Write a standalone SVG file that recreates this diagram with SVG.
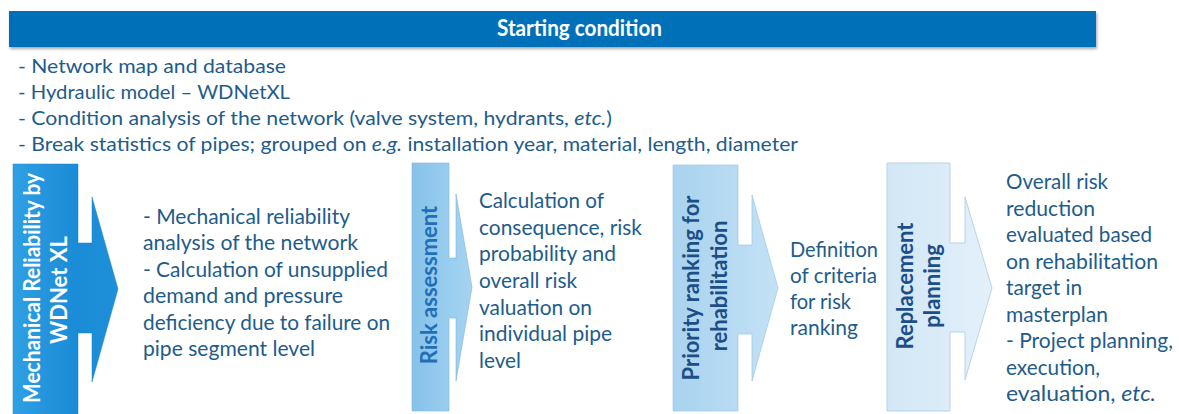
<svg xmlns="http://www.w3.org/2000/svg" width="1179" height="414" viewBox="0 0 1179 414">
<defs>
  <linearGradient id="g1" x1="0" y1="0" x2="1" y2="0">
    <stop offset="0" stop-color="#2fa0e3"/>
    <stop offset="0.6" stop-color="#1a8bd6"/>
    <stop offset="1" stop-color="#1e8fd8"/>
  </linearGradient>
  <linearGradient id="g2" x1="0" y1="0" x2="1" y2="0">
    <stop offset="0" stop-color="#86c2ea"/>
    <stop offset="1" stop-color="#a6d4f2"/>
  </linearGradient>
  <linearGradient id="g3" x1="0" y1="0" x2="1" y2="0">
    <stop offset="0" stop-color="#a9d3ef"/>
    <stop offset="1" stop-color="#c3e1f5"/>
  </linearGradient>
  <linearGradient id="g4" x1="0" y1="0" x2="1" y2="0">
    <stop offset="0" stop-color="#d2e7f6"/>
    <stop offset="1" stop-color="#e3f0fa"/>
  </linearGradient>
  <filter id="sh" x="-5%" y="-30%" width="110%" height="170%">
    <feDropShadow dx="1" dy="2" stdDeviation="1.5" flood-color="#000" flood-opacity="0.35"/>
  </filter>
</defs>
<style>
  .t { font-family: Lato, "Open Sans", "Liberation Sans", sans-serif; font-size: 22px; fill: #1e5c8b; }
  .s { font-size: 20px; }
  .hd { font-family: Lato, "Open Sans", "Liberation Sans", sans-serif; font-size: 22px; font-weight: bold; fill: #ffffff; }
  .v { font-family: Lato, "Open Sans", "Liberation Sans", sans-serif; font-size: 22px; font-weight: bold; text-anchor: middle; }
  .vw { fill: #ffffff; }
  .vb { fill: #1f70b8; }
  .vd { fill: #1c4e88; }
  .arr { stroke-width: 1; }
</style>

<g id="starting-condition">
  <rect x="9" y="11" width="1087" height="36" fill="#0071b9" filter="url(#sh)"/>
  <text class="hd" x="497" y="36" textLength="165" lengthAdjust="spacingAndGlyphs">Starting condition</text>
</g>

<g id="inputs">
  <text class="t s" x="18" y="73" textLength="268" lengthAdjust="spacingAndGlyphs">- Network map and database</text>
  <text class="t s" x="18" y="99" textLength="272" lengthAdjust="spacingAndGlyphs">- Hydraulic model – WDNetXL</text>
  <text class="t s" x="18" y="125" textLength="594" lengthAdjust="spacingAndGlyphs">- Condition analysis of the network (valve system, hydrants, <tspan font-style="italic">etc.</tspan>)</text>
  <text class="t s" x="18" y="151" textLength="780" lengthAdjust="spacingAndGlyphs">- Break statistics of pipes; grouped on <tspan font-style="italic">e.g.</tspan> installation year, material, length, diameter</text>
</g>

<g id="step-mechanical-reliability">
  <path class="arr" d="M13,164 H78 V243 H92 V197 L118,289 L92,382 V333 H78 V416 H13 Z" fill="url(#g1)" stroke="#1b86cc" stroke-opacity="0.5"/>
  <text class="v vw" transform="translate(40,288) rotate(-90)" textLength="230" lengthAdjust="spacingAndGlyphs">Mechanical Reliability by</text>
  <text class="v vw" transform="translate(67,290) rotate(-90)">WDNet XL</text>
</g>
<g id="text-mechanical-reliability">
  <text class="t" x="143" y="224" textLength="207" lengthAdjust="spacingAndGlyphs">- Mechanical reliability</text>
  <text class="t" x="143" y="250" textLength="215" lengthAdjust="spacingAndGlyphs">analysis of the network</text>
  <text class="t" x="143" y="277" textLength="245" lengthAdjust="spacingAndGlyphs">- Calculation of unsupplied</text>
  <text class="t" x="143" y="303" textLength="200" lengthAdjust="spacingAndGlyphs">demand and pressure</text>
  <text class="t" x="143" y="330" textLength="247" lengthAdjust="spacingAndGlyphs">deficiency due to failure on</text>
  <text class="t" x="143" y="356" textLength="172" lengthAdjust="spacingAndGlyphs">pipe segment level</text>
</g>

<g id="step-risk-assessment">
  <path class="arr" d="M412,163 H449 V258 H456 V194 L472,287 L456,381 V318 H449 V411 H412 Z" fill="url(#g2)" stroke="#7fb6dc" stroke-opacity="0.6"/>
  <text class="v vb" transform="translate(437,285) rotate(-90)">Risk assessment</text>
</g>
<g id="text-risk-assessment">
  <text class="t" x="479" y="208" textLength="125" lengthAdjust="spacingAndGlyphs">Calculation of</text>
  <text class="t" x="479" y="235" textLength="163" lengthAdjust="spacingAndGlyphs">consequence, risk</text>
  <text class="t" x="479" y="261" textLength="137" lengthAdjust="spacingAndGlyphs">probability and</text>
  <text class="t" x="479" y="288" textLength="98" lengthAdjust="spacingAndGlyphs">overall risk</text>
  <text class="t" x="479" y="315" textLength="113" lengthAdjust="spacingAndGlyphs">valuation on</text>
  <text class="t" x="479" y="341" textLength="133" lengthAdjust="spacingAndGlyphs">individual pipe</text>
  <text class="t" x="479" y="368" textLength="42" lengthAdjust="spacingAndGlyphs">level</text>
</g>

<g id="step-priority-ranking">
  <path class="arr" d="M673,165 H738 V245 H752 V195 L778,288 L752,381 V334 H738 V411 H673 Z" fill="url(#g3)" stroke="#9cc7e6" stroke-opacity="0.7"/>
  <text class="v vd" transform="translate(699,288) rotate(-90)">Priority ranking for</text>
  <text class="v vd" transform="translate(727,286) rotate(-90)">rehabilitation</text>
</g>
<g id="text-priority-ranking">
  <text class="t" x="790" y="257" textLength="88" lengthAdjust="spacingAndGlyphs">Definition</text>
  <text class="t" x="790" y="283" textLength="87" lengthAdjust="spacingAndGlyphs">of criteria</text>
  <text class="t" x="790" y="309" textLength="61" lengthAdjust="spacingAndGlyphs">for risk</text>
  <text class="t" x="790" y="335" textLength="68" lengthAdjust="spacingAndGlyphs">ranking</text>
</g>

<g id="step-replacement-planning">
  <path class="arr" d="M887,163 H950 V243 H965 V197 L992,288 L965,380 V332 H950 V411 H887 Z" fill="url(#g4)" stroke="#b3cfe6" stroke-opacity="0.9"/>
  <text class="v vd" transform="translate(913,286) rotate(-90)">Replacement</text>
  <text class="v vd" transform="translate(940,286) rotate(-90)">planning</text>
</g>
<g id="text-replacement-planning">
  <text class="t" x="1006" y="189" textLength="102" lengthAdjust="spacingAndGlyphs">Overall risk</text>
  <text class="t" x="1006" y="215.5" textLength="89" lengthAdjust="spacingAndGlyphs">reduction</text>
  <text class="t" x="1006" y="242" textLength="146" lengthAdjust="spacingAndGlyphs">evaluated based</text>
  <text class="t" x="1006" y="268.5" textLength="152" lengthAdjust="spacingAndGlyphs">on rehabilitation</text>
  <text class="t" x="1006" y="295" textLength="76" lengthAdjust="spacingAndGlyphs">target in</text>
  <text class="t" x="1006" y="321.5" textLength="102" lengthAdjust="spacingAndGlyphs">masterplan</text>
  <text class="t" x="1006" y="348" textLength="167" lengthAdjust="spacingAndGlyphs">- Project planning,</text>
  <text class="t" x="1006" y="374.5" textLength="94" lengthAdjust="spacingAndGlyphs">execution,</text>
  <text class="t" x="1006" y="401" textLength="150" lengthAdjust="spacingAndGlyphs">evaluation, <tspan font-style="italic">etc.</tspan></text>
</g>
</svg>
